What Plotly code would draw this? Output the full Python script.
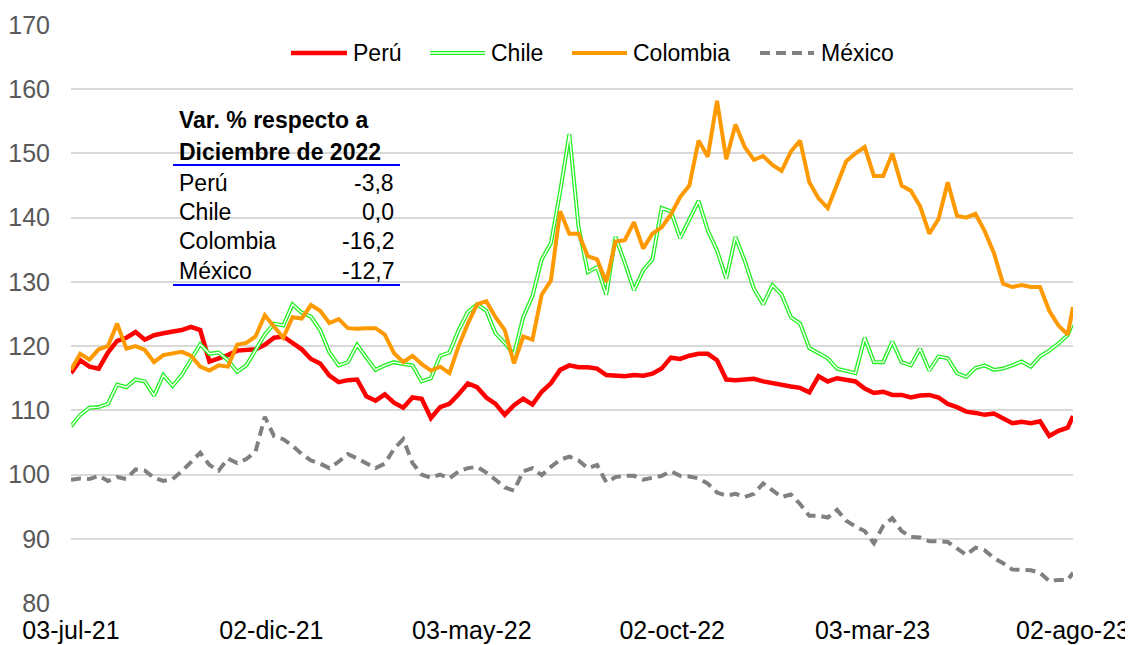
import pandas as pd
import plotly.graph_objects as go

# ---------------- data (weekly readings from 03-jul-21, last point 02-ago-23) ----------------
start_date = "2021-07-03"
end_date = "2023-08-02"
n_weeks = 109

peru = [115.8, 117.8, 116.8, 116.5, 119.0, 120.8, 121.3, 122.2, 121.0, 121.7,
        122.0, 122.2, 122.5, 123.0, 122.5, 117.6, 118.1, 118.6, 119.3, 119.4,
        119.5, 120.2, 121.3, 121.5, 120.5, 119.5, 118.0, 117.3, 115.4, 114.4,
        114.7, 114.8, 112.2, 111.5, 112.5, 111.2, 110.4, 112.0, 111.8, 108.8,
        110.5, 111.0, 112.5, 114.2, 113.6, 112.0, 111.0, 109.3, 110.8, 111.8,
        110.9, 112.9, 114.2, 116.3, 117.0, 116.7, 116.7, 116.5, 115.5, 115.4,
        115.3, 115.5, 115.4, 115.7, 116.5, 118.2, 118.0, 118.5, 118.8, 118.8,
        117.8, 114.8, 114.7, 114.8, 114.9, 114.5, 114.2, 114.0, 113.7, 113.5,
        112.8, 115.3, 114.5, 115.0, 114.8, 114.5, 113.4, 112.7, 112.9, 112.4,
        112.4, 112.0, 112.3, 112.4, 112.0, 111.0, 110.5, 109.8, 109.6, 109.3,
        109.5, 108.8, 108.0, 108.2, 108.0, 108.3, 106.0, 106.8, 107.3,
        109.1]

chile = [107.5, 109.3, 110.4, 110.5, 111.0, 114.0, 113.6, 114.8, 114.5, 112.3,
         115.5, 113.8, 115.5, 117.8, 120.3, 118.8, 119.0, 117.8, 116.0, 117.0,
         119.5, 121.8, 123.5, 123.2, 126.5, 125.2, 124.6, 122.5, 119.0, 117.0,
         117.5, 120.2, 118.2, 116.3, 117.0, 117.5, 117.2, 117.0, 114.5, 115.0,
         118.5, 119.0, 122.5, 125.3, 126.5, 125.5, 122.0, 120.5, 118.7, 124.5,
         127.8, 133.5, 136.0, 144.0, 153.0, 138.5, 131.5, 132.3, 128.0, 137.0,
         133.0, 128.7, 131.8, 133.5, 141.5, 141.0, 136.8, 139.8, 142.6, 138.0,
         134.9, 130.5, 137.0, 133.3, 128.9, 126.5, 129.5, 128.0, 124.5, 123.5,
         119.7, 118.9, 118.1, 116.5, 116.2, 115.8, 121.3, 117.5, 117.5, 120.7,
         117.5, 117.0, 119.6, 116.2, 118.4, 118.1, 115.8, 115.2, 116.6, 117.0,
         116.3, 116.5, 117.0, 117.6, 116.8, 118.4, 119.3, 120.4, 121.7,
         123.8]

colombia = [116.3, 118.8, 117.9, 119.5, 120.0, 123.5, 119.6, 120.0, 119.4, 117.5,
            118.6, 118.9, 119.1, 118.5, 116.8, 116.2, 117.0, 116.8, 120.2, 120.5,
            121.5, 124.8, 123.0, 121.3, 124.5, 124.3, 126.4, 125.5, 123.6, 124.2,
            122.8, 122.7, 122.8, 122.8, 121.8, 118.9, 117.5, 118.5, 117.2, 116.2,
            116.8, 115.8, 120.0, 123.5, 126.5, 127.0, 124.5, 122.5, 117.3, 121.5,
            121.0, 128.0, 130.2, 141.0, 137.5, 137.5, 134.0, 133.5, 130.0, 136.3,
            136.5, 139.3, 135.2, 137.5, 138.5, 140.5, 143.2, 145.0, 152.0, 149.5,
            158.2, 149.1, 154.5, 151.0, 149.0, 149.6, 148.2, 147.3, 150.3, 152.0,
            145.5, 143.0, 141.5, 145.0, 148.8, 150.0, 151.0, 146.5, 146.5, 150.0,
            145.0, 144.2, 141.8, 137.5, 139.8, 145.5, 140.3, 140.0, 140.6, 137.9,
            134.5, 129.7, 129.2, 129.5, 129.2, 129.2, 125.5, 123.2, 121.8,
            126.1]

mexico = [99.2, 99.4, 99.3, 99.8, 99.0, 99.6, 99.3, 100.8, 100.6, 99.5,
          99.0, 99.3, 100.5, 102.0, 103.4, 101.5, 100.6, 102.5, 101.8, 102.4,
          103.6, 109.0, 106.0, 105.5, 104.5, 103.2, 102.2, 101.7, 101.0, 102.0,
          103.2, 102.5, 101.8, 101.0, 101.7, 104.0, 105.5, 101.8, 100.0, 99.5,
          100.0, 99.4, 100.5, 101.0, 101.2, 100.3, 99.2, 98.0, 97.5, 100.5,
          101.0, 99.9, 101.2, 102.3, 102.8, 102.2, 101.0, 101.5, 98.8, 99.6,
          99.8, 99.8, 99.2, 99.5, 99.8, 100.5, 99.8, 99.7, 99.4, 98.6,
          97.2, 96.7, 97.0, 96.5, 97.0, 98.6, 97.6, 96.5, 96.9, 95.4,
          93.6, 93.6, 93.3, 94.5, 92.8, 91.9, 91.2, 89.3, 92.0, 93.2,
          91.2, 90.3, 90.2, 89.6, 89.6, 89.5, 88.5, 87.5, 88.6, 88.2,
          87.0, 86.2, 85.2, 85.1, 85.1, 84.7, 83.4, 83.6, 83.6,
          84.7]

tick_dates = ["2021-07-03", "2021-12-02", "2022-05-03", "2022-10-02", "2023-03-03", "2023-08-02"]
tick_labels = ["03-jul-21", "02-dic-21", "03-may-22", "02-oct-22", "03-mar-23", "02-ago-23"]

series_names = ["Perú", "Chile", "Colombia", "México"]
table_header = ["Var. % respecto a", "Diciembre de 2022"]
table_names = ["Perú", "Chile", "Colombia", "México"]
table_values = ["-3,8", "0,0", "-16,2", "-12,7"]

# ---------------- figure ----------------
dates = list(pd.date_range(start_date, periods=n_weeks, freq="7D")) + [pd.Timestamp(end_date)]

W, H = 1133, 645
OFF = 8  # page body margin offset in the browser
L, R, T, B = 63, 68, 17, 50
PW, PH = W - L - R, H - T - B

def px(x):
    return (x - OFF - L) / PW

def py(y):
    return (H - B - (y - OFF)) / PH

RED = "#ff0000"
GREEN = "#22f022"
ORANGE = "#ff9900"
GRAY = "#808080"
FONT = "Liberation Sans, Arial, sans-serif"

fig = go.Figure()
fig.add_trace(go.Scatter(x=dates, y=peru, mode="lines", name=series_names[0],
                         line=dict(color=RED, width=4.5)))
fig.add_trace(go.Scatter(x=dates, y=chile, mode="lines", name=series_names[1],
                         line=dict(color=GREEN, width=4)))
fig.add_trace(go.Scatter(x=dates, y=chile, mode="lines", name=series_names[1] + " ",
                         line=dict(color="white", width=1.4), hoverinfo="skip"))
fig.add_trace(go.Scatter(x=dates, y=colombia, mode="lines", name=series_names[2],
                         line=dict(color=ORANGE, width=4)))
fig.add_trace(go.Scatter(x=dates, y=mexico, mode="lines", name=series_names[3],
                         line=dict(color=GRAY, width=4, dash="10px,6px")))

shapes = []
annotations = []

# white box behind the table
shapes.append(dict(type="rect", xref="paper", yref="paper", layer="between",
                   x0=px(172), x1=px(401), y0=py(288), y1=py(98),
                   fillcolor="white", line=dict(width=0)))
# blue rules
for yy in (165, 285):
    shapes.append(dict(type="line", xref="paper", yref="paper", layer="above",
                       x0=px(173), x1=px(400), y0=py(yy), y1=py(yy),
                       line=dict(color="#0000ff", width=2)))

TXT = dict(family=FONT, size=23, color="black")
for txt, yy in zip(table_header, (120, 152)):
    annotations.append(dict(text="<b>%s</b>" % txt, xref="paper", yref="paper",
                            x=px(177), y=py(yy), xanchor="left", yanchor="middle",
                            showarrow=False, font=TXT))
for name, val, yy in zip(table_names, table_values, (183, 212, 241, 271)):
    annotations.append(dict(text=name, xref="paper", yref="paper",
                            x=px(177), y=py(yy), xanchor="left", yanchor="middle",
                            showarrow=False, font=TXT))
    annotations.append(dict(text=val, xref="paper", yref="paper",
                            x=px(396), y=py(yy), xanchor="right", yanchor="middle",
                            showarrow=False, font=TXT))

# manual legend
LEG_Y = 53
legend_items = [
    (series_names[0], 291, 347, 351),
    (series_names[1], 430, 485, 489),
    (series_names[2], 572, 627, 631),
    (series_names[3], 760, 814, 819),
]
styles = [
    [dict(color=RED, width=4.5)],
    [dict(color=GREEN, width=4), dict(color="white", width=1.4)],
    [dict(color=ORANGE, width=4)],
    [dict(color=GRAY, width=4, dash="10px,6px")],
]
for (name, x0, x1, xt), sty in zip(legend_items, styles):
    for ln in sty:
        shapes.append(dict(type="line", xref="paper", yref="paper", layer="above",
                           x0=px(x0), x1=px(x1), y0=py(LEG_Y), y1=py(LEG_Y), line=ln))
    annotations.append(dict(text=name, xref="paper", yref="paper",
                            x=px(xt), y=py(LEG_Y), xanchor="left", yanchor="middle",
                            showarrow=False, font=TXT))

fig.update_layout(
    width=W, height=H,
    margin=dict(l=L, r=R, t=T, b=B, pad=0, autoexpand=False),
    paper_bgcolor="white", plot_bgcolor="white",
    showlegend=False,
    shapes=shapes, annotations=annotations,
    font=dict(family=FONT),
    xaxis=dict(type="date", range=[start_date, end_date], automargin=False,
               tickvals=tick_dates, ticktext=tick_labels,
               showgrid=False, zeroline=False, showline=False,
               ticks="", ticklabelstandoff=10,
               tickfont=dict(family=FONT, size=25, color="black")),
    yaxis=dict(range=[80, 170], dtick=10, tick0=80, automargin=False,
               showgrid=True, gridcolor="#d9d9d9", gridwidth=1.5,
               zeroline=False, showline=False, ticks="",
               ticklabelstandoff=20,
               tickfont=dict(family=FONT, size=25, color="#595959")),
)

fig.write_html("out.html")
